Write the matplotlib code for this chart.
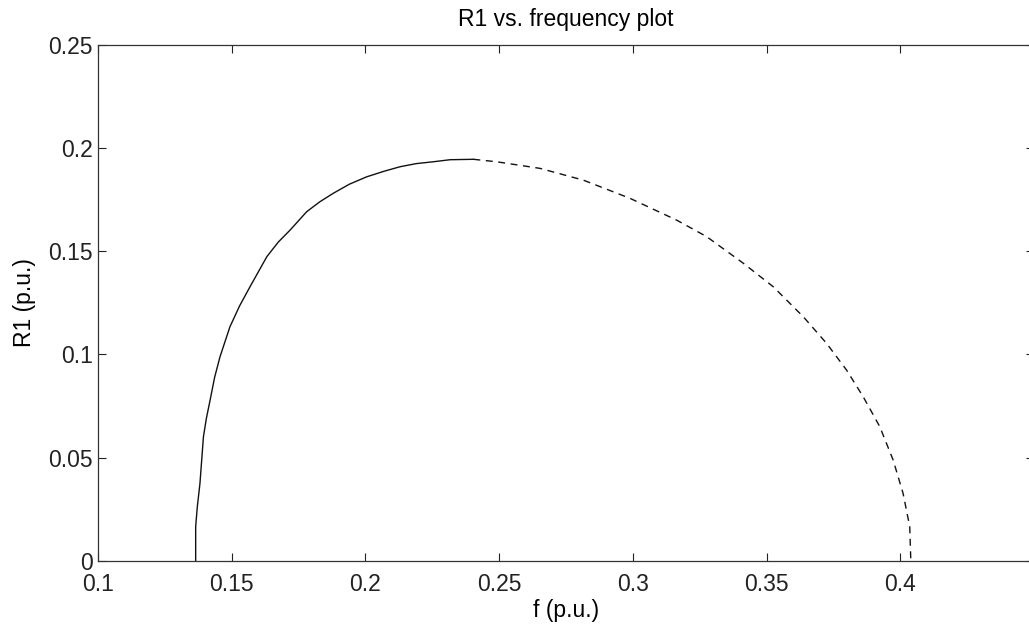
import numpy as np
import matplotlib
matplotlib.use('Agg')
import matplotlib.pyplot as plt

# R1 vs f (branche pleine puis branche pointillee)
f_solid = [0.1366, 0.1366, 0.1372, 0.1382, 0.1395, 0.1406, 0.1420, 0.1437, 0.1457,
           0.1494, 0.1530, 0.1569, 0.1632, 0.1675, 0.1719, 0.1781, 0.1830, 0.1880,
           0.1940, 0.2005, 0.2070, 0.2130, 0.2190, 0.2254, 0.2317, 0.2404]
r_solid = [0.0, 0.0165, 0.0260, 0.0375, 0.0601, 0.0690, 0.0779, 0.0890, 0.0989,
           0.1134, 0.1235, 0.1328, 0.1474, 0.1545, 0.1603, 0.1692, 0.1740, 0.1781,
           0.1825, 0.1861, 0.1888, 0.1910, 0.1925, 0.1934, 0.1944, 0.1946]

f_dash = [0.2404, 0.2491, 0.2653, 0.2815, 0.2989, 0.3164, 0.3276, 0.3413, 0.3525,
          0.3637, 0.3724, 0.3799, 0.3861, 0.3923, 0.3973, 0.4010, 0.4035, 0.4039]
r_dash = [0.1946, 0.1934, 0.1902, 0.1845, 0.1757, 0.1651, 0.1571, 0.1442, 0.1328,
          0.1183, 0.1054, 0.0924, 0.0795, 0.0650, 0.0488, 0.0327, 0.0165, 0.0]

xticks = [0.1, 0.15, 0.2, 0.25, 0.3, 0.35, 0.4]
xticklabels = ['0.1', '0.15', '0.2', '0.25', '0.3', '0.35', '0.4']
yticks = [0, 0.05, 0.1, 0.15, 0.2, 0.25]
yticklabels = ['0', '0.05', '0.1', '0.15', '0.2', '0.25']

plt.rcParams['font.family'] = ['Liberation Sans', 'DejaVu Sans']

fig = plt.figure(figsize=(10.29, 6.27), dpi=100)
ax = fig.add_axes([0.095, 0.1057, 0.910, 0.8225])

ax.plot(f_solid, r_solid, color='#111111', linewidth=1.0, linestyle='-')
ax.plot(f_dash, r_dash, color='#111111', linewidth=1.0, linestyle=(0, (5, 4)))

ax.set_xlim(0.1, 0.45)
ax.set_ylim(0, 0.25)
ax.set_xticks(xticks)
ax.set_xticklabels(xticklabels)
ax.set_yticks(yticks)
ax.set_yticklabels(yticklabels)
ax.tick_params(direction='in', top=True, right=True, length=6, width=0.8,
               labelsize=16.5, colors='#222222')
ax.tick_params(axis='x', pad=9)
ax.tick_params(axis='y', pad=3.5)
for s in ax.spines.values():
    s.set_linewidth(0.9)
    s.set_color('#333333')

ax.set_title('R1 vs. frequency plot', fontsize=16.5, pad=13.5)
ax.set_xlabel('f (p.u.)', fontsize=16.5, labelpad=2)
ax.set_ylabel('R1 (p.u.)', fontsize=16.5, labelpad=9)

plt.savefig('out.png', dpi=100)
